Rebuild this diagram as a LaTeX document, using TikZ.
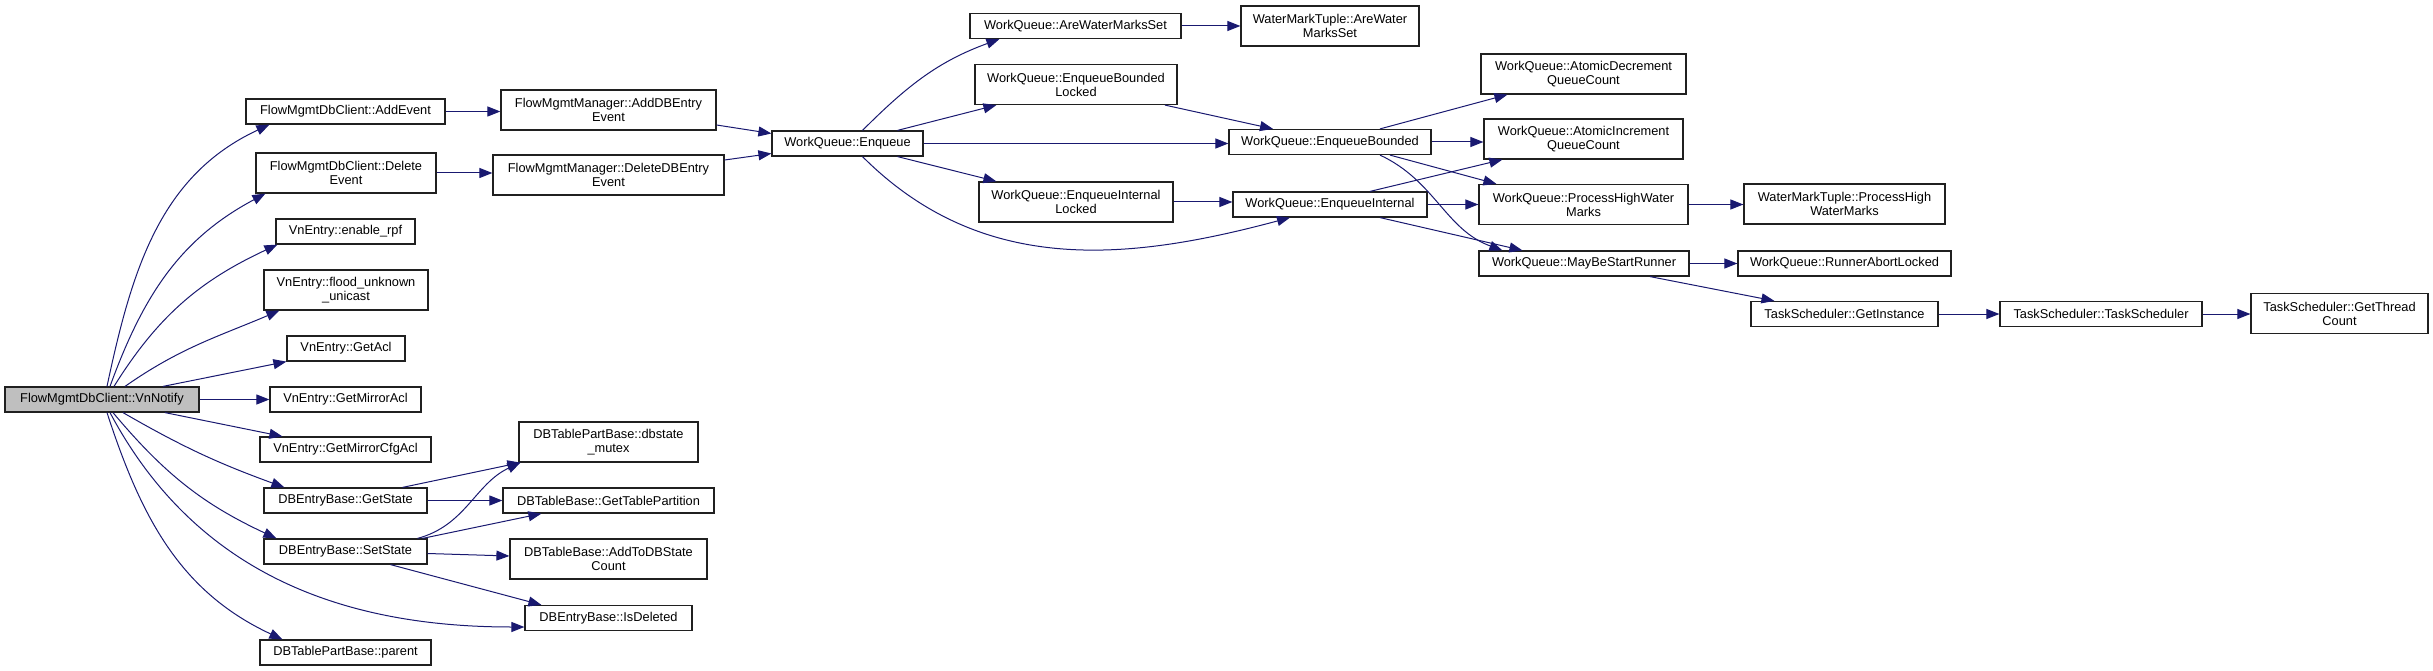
\documentclass[tikz,border=0pt]{standalone}
\usepackage{fontspec}
\setmainfont{Liberation Sans}
\usetikzlibrary{arrows.meta}
\definecolor{cgazul}{HTML}{191970}
\definecolor{cgcinza}{HTML}{BFBFBF}
\definecolor{cgborda}{HTML}{202020}
\tikzset{
  cgbox/.style={draw=cgborda, line width=1.2pt, fill=white, rectangle, inner sep=0pt,
                align=center, font=\fontsize{12.8}{14}\selectfont, minimum height=25pt},
  cgbox2/.style={cgbox, minimum height=40pt},
  cgraiz/.style={cgbox, fill=cgcinza},
  cgcall/.style={-{Triangle[length=13pt,width=10pt]}, line width=1pt, draw=cgazul},
}
\begin{document}
\begin{tikzpicture}[x=1pt, y=-1pt]
        \useasboundingbox (0,0) rectangle (2433,671);
        % raiz
        \node[cgraiz, minimum width=194pt] (vn) at (102,399.5) {FlowMgmtDbClient::VnNotify};
        % primeiro nivel
        \node[cgbox, minimum width=199pt] (addev) at (345.5,111.5) {FlowMgmtDbClient::AddEvent};
        \node[cgbox2, minimum width=180pt] (delev) at (346,173) {FlowMgmtDbClient::Delete\\Event};
        \node[cgbox, minimum width=139pt] (rpf) at (345.5,231.5) {VnEntry::enable\_rpf};
        \node[cgbox2, minimum width=164pt] (flood) at (346,290) {VnEntry::flood\_unknown\\\_unicast};
        \node[cgbox, minimum width=118pt] (getacl) at (346,348.5) {VnEntry::GetAcl};
        \node[cgbox, minimum width=151pt] (mirror) at (345.5,399.5) {VnEntry::GetMirrorAcl};
        \node[cgbox, minimum width=171pt] (mirrorcfg) at (345.5,449.5) {VnEntry::GetMirrorCfgAcl};
        \node[cgbox, minimum width=163pt] (getstate) at (345.5,500.5) {DBEntryBase::GetState};
        \node[cgbox, minimum width=163pt] (setstate) at (345.5,551.5) {DBEntryBase::SetState};
        \node[cgbox, minimum width=171pt] (parent) at (345.5,652.5) {DBTablePartBase::parent};
        % segundo nivel
        \node[cgbox2, minimum width=215pt] (adddb) at (608.5,110) {FlowMgmtManager::AddDBEntry\\Event};
        \node[cgbox2, minimum width=231pt] (deldb) at (608.5,175) {FlowMgmtManager::DeleteDBEntry\\Event};
        \node[cgbox2, minimum width=179pt] (mutex) at (608.5,442) {DBTablePartBase::dbstate\\\_mutex};
        \node[cgbox, minimum width=211pt] (gettp) at (608.5,500.5) {DBTableBase::GetTablePartition};
        \node[cgbox2, minimum width=197pt] (addcount) at (608.5,559) {DBTableBase::AddToDBState\\Count};
        \node[cgbox, minimum width=167pt] (isdel) at (608.5,618) {DBEntryBase::IsDeleted};
        % fila de trabalho
        \node[cgbox, minimum width=151pt] (enq) at (847.5,143.5) {WorkQueue::Enqueue};
        \node[cgbox, minimum width=211pt] (arewm) at (1075.5,26) {WorkQueue::AreWaterMarksSet};
        \node[cgbox2, minimum width=202pt] (eblocked) at (1076,84.5) {WorkQueue::EnqueueBounded\\Locked};
        \node[cgbox2, minimum width=194pt] (eilocked) at (1076,202) {WorkQueue::EnqueueInternal\\Locked};
        \node[cgbox2, minimum width=178pt] (wmtare) at (1330,26) {WaterMarkTuple::AreWater\\MarksSet};
        \node[cgbox, minimum width=202pt] (ebounded) at (1330,142) {WorkQueue::EnqueueBounded};
        \node[cgbox, minimum width=194pt] (einternal) at (1330,204.5) {WorkQueue::EnqueueInternal};
        \node[cgbox2, minimum width=205pt] (atomdec) at (1583.5,74) {WorkQueue::AtomicDecrement\\QueueCount};
        \node[cgbox2, minimum width=199pt] (atominc) at (1583.5,139) {WorkQueue::AtomicIncrement\\QueueCount};
        \node[cgbox2, minimum width=209pt] (phwm) at (1583.5,204.5) {WorkQueue::ProcessHighWater\\Marks};
        \node[cgbox, minimum width=210pt] (maybe) at (1584,263.5) {WorkQueue::MayBeStartRunner};
        \node[cgbox2, minimum width=201pt] (wmtphwm) at (1844.5,204) {WaterMarkTuple::ProcessHigh\\WaterMarks};
        \node[cgbox, minimum width=213pt] (abort) at (1844.5,263.5) {WorkQueue::RunnerAbortLocked};
        \node[cgbox, minimum width=187pt] (getinst) at (1844.5,314) {TaskScheduler::GetInstance};
        \node[cgbox, minimum width=202pt] (tsched) at (2101,314) {TaskScheduler::TaskScheduler};
        \node[cgbox2, minimum width=177pt] (threadcnt) at (2339.5,313.5) {TaskScheduler::GetThread\\Count};
        % chamadas da raiz
        \draw[cgcall] ([xshift=5pt]vn.north) to[out=78,in=205] ([xshift=24pt]addev.south west);
        \draw[cgcall] ([xshift=8pt]vn.north) to[out=70,in=208] ([xshift=10pt]delev.south west);
        \draw[cgcall] ([xshift=12pt]vn.north) to[out=58,in=205] ([xshift=2pt]rpf.south west);
        \draw[cgcall] ([xshift=23pt]vn.north) to[out=35,in=203] ([xshift=16pt]flood.south west);
        \draw[cgcall] ([xshift=61pt]vn.north) -- (getacl.south west);
        \draw[cgcall] (vn.east) -- (vn.east -| mirror.west);
        \draw[cgcall] ([xshift=63pt]vn.south) -- ([xshift=23pt]mirrorcfg.north west);
        \draw[cgcall] ([xshift=21pt]vn.south) to[out=-30,in=160] ([xshift=21pt]getstate.north west);
        \draw[cgcall] ([xshift=11pt]vn.south) to[out=-50,in=155] ([xshift=13pt]setstate.north west);
        \draw[cgcall] ([xshift=8pt]vn.south) to[out=-62,in=180] ([yshift=-9pt]isdel.west);
        \draw[cgcall] ([xshift=5pt]vn.south) to[out=-72,in=155] ([xshift=23pt]parent.north west);
        % eventos
        \draw[cgcall] (addev.east) -- (addev.east -| adddb.west);
        \draw[cgcall] (delev.east) -- (delev.east -| deldb.west);
        \draw[cgcall] ([yshift=-15pt]adddb.east) -- ([yshift=10pt]enq.west);
        \draw[cgcall] ([yshift=15pt]deldb.east) -- ([yshift=-10pt]enq.west);
        % estado
        \draw[cgcall] ([xshift=57pt]getstate.north) -- ([xshift=2pt]mutex.south west);
        \draw[cgcall] (getstate.east) -- (getstate.east -| gettp.west);
        \draw[cgcall] ([xshift=72pt]setstate.north) to[out=15,in=205] ([xshift=2pt]mutex.south west);
        \draw[cgcall] ([xshift=77pt]setstate.north) -- ([xshift=39pt]gettp.south west);
        \draw[cgcall] ([yshift=-2pt]setstate.east) -- ([yshift=3pt]addcount.west);
        \draw[cgcall] ([xshift=45pt]setstate.south) -- ([xshift=17pt]isdel.north west);
        % enqueue
        \draw[cgcall] ([xshift=15pt]enq.north) to[out=45,in=200] ([xshift=30pt]arewm.south west);
        \draw[cgcall] ([xshift=50pt]enq.north) -- ([xshift=22pt]eblocked.south west);
        \draw[cgcall] (enq.east) -- (enq.east -| ebounded.west);
        \draw[cgcall] ([xshift=50pt]enq.south) -- ([xshift=18pt]eilocked.north west);
        \draw[cgcall] ([xshift=15pt]enq.south) to[out=-45,in=195] ([xshift=-40pt]einternal.south);
        \draw[cgcall] (arewm.east) -- (arewm.east -| wmtare.west);
        \draw[cgcall] ([xshift=89pt]eblocked.south) -- ([xshift=-57pt]ebounded.north);
        \draw[cgcall] (eilocked.east) -- (eilocked.east -| einternal.west);
        % enqueue bounded / internal
        \draw[cgcall] ([xshift=50pt]ebounded.north) -- ([xshift=27pt]atomdec.south west);
        \draw[cgcall] (ebounded.east) -- (ebounded.east -| atominc.west);
        \draw[cgcall] ([xshift=60pt]ebounded.south) -- ([xshift=18pt]phwm.north west);
        \draw[cgcall] ([xshift=50pt]ebounded.south) to[out=-25,in=160] ([xshift=24pt]maybe.north west);
        \draw[cgcall] ([xshift=40pt]einternal.north) -- ([xshift=19pt]atominc.south west);
        \draw[cgcall] (einternal.east) -- (einternal.east -| phwm.west);
        \draw[cgcall] ([xshift=50pt]einternal.south) -- ([xshift=44pt]maybe.north west);
        % marcas e agendador
        \draw[cgcall] (phwm.east) -- (phwm.east -| wmtphwm.west);
        \draw[cgcall] (maybe.east) -- (maybe.east -| abort.west);
        \draw[cgcall] ([xshift=66pt]maybe.south) -- ([xshift=24pt]getinst.north west);
        \draw[cgcall] (getinst.east) -- (getinst.east -| tsched.west);
        \draw[cgcall] (tsched.east) -- (tsched.east -| threadcnt.west);
    \end{tikzpicture}
\end{document}
